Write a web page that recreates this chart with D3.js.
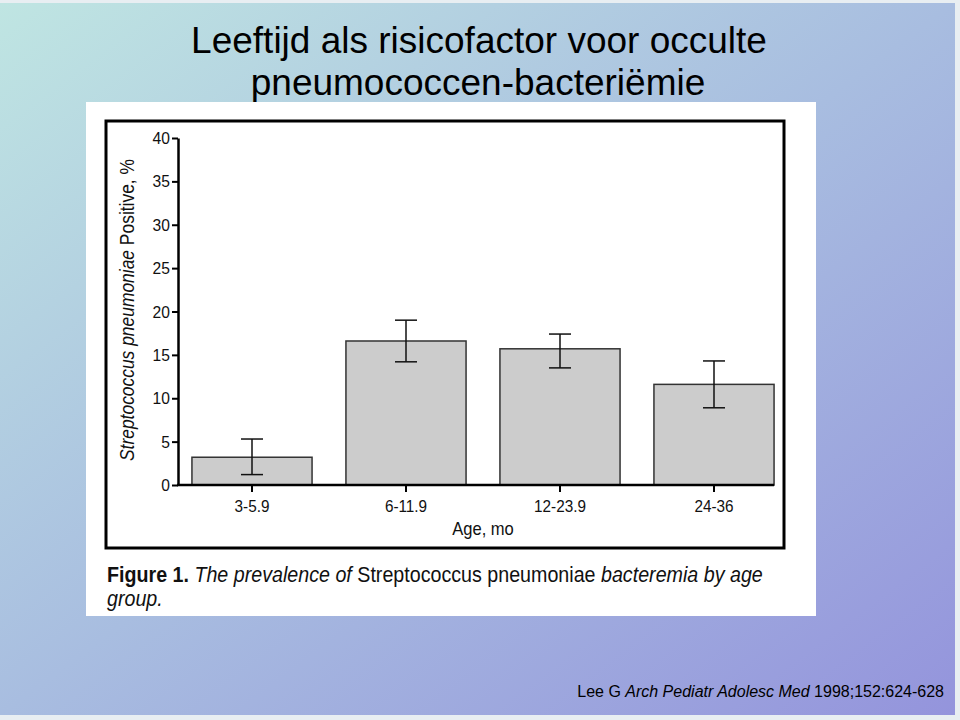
<!DOCTYPE html>
<html><head><meta charset="utf-8">
<script src="https://cdn.jsdelivr.net/npm/d3@7"></script>
<style>html,body{margin:0;padding:0;}svg{display:block;}</style>
</head><body>
<script>
const categories = ["3-5.9", "6-11.9", "12-23.9", "24-36"];
const values = [3.2, 16.6, 15.7, 11.6];
const errLow = [1.2, 14.2, 13.5, 8.9];
const errHigh = [5.3, 19.0, 17.4, 14.3];
const yTicks = [0, 5, 10, 15, 20, 25, 30, 35, 40];

const W = 960, H = 720;
const svg = d3.select("body").append("svg").attr("width", W).attr("height", H);
const defs = svg.append("defs");
const grad = defs.append("linearGradient").attr("id", "bg").attr("x1", "0").attr("y1", "0").attr("x2", "1").attr("y2", "1");
grad.append("stop").attr("offset", "0").attr("stop-color", "#bfe5e2");
grad.append("stop").attr("offset", "0.5").attr("stop-color", "#a8bde0");
grad.append("stop").attr("offset", "1").attr("stop-color", "#9494dc");
svg.append("rect").attr("width", W).attr("height", H).attr("fill", "#e8eef2");
svg.append("rect").attr("x", 0).attr("y", 3).attr("width", 955).attr("height", 712).attr("fill", "url(#bg)");

const sans = "'Liberation Sans', Arial, sans-serif";

// helper: condensed text
function ctext(parent, xPos, yPos, sx, size, anchor) {
  return parent.append("g").attr("transform", `translate(${xPos},${yPos}) scale(${sx},1)`)
    .append("text").attr("x", 0).attr("y", 0).attr("text-anchor", anchor || "start")
    .attr("font-family", sans).attr("font-size", size).attr("fill", "#111");
}

// Title
const title = svg.append("text").attr("text-anchor", "middle")
  .attr("font-family", sans).attr("font-size", 37).attr("fill", "#000");
title.append("tspan").attr("x", 479).attr("y", 53).text("Leeftijd als risicofactor voor occulte");
title.append("tspan").attr("x", 478).attr("y", 95).text("pneumococcen-bacteriëmie");

// White panel
svg.append("rect").attr("x", 86).attr("y", 102).attr("width", 730).attr("height", 514).attr("fill", "#fff");
svg.append("rect").attr("x", 106).attr("y", 121).attr("width", 678).attr("height", 427)
  .attr("fill", "none").attr("stroke", "#000").attr("stroke-width", 3);

// Scales
const x = d3.scaleBand().domain(categories).range([175, 791]).paddingInner(0.22).paddingOuter(0.11);
const y = d3.scaleLinear().domain([0, 40]).range([485, 138]);
const x0 = 178;

const g = svg.append("g");

// Bars
g.selectAll("rect.bar").data(categories).enter().append("rect")
  .attr("x", d => x(d)).attr("y", (d, i) => y(values[i]))
  .attr("width", x.bandwidth()).attr("height", (d, i) => y(0) - y(values[i]))
  .attr("fill", "#cccccc").attr("stroke", "#333").attr("stroke-width", 1.5);

// Error bars
const cap = 11;
categories.forEach((c, i) => {
  const cx = x(c) + x.bandwidth() / 2;
  g.append("line").attr("x1", cx).attr("x2", cx).attr("y1", y(errLow[i])).attr("y2", y(errHigh[i]))
    .attr("stroke", "#111").attr("stroke-width", 1.5);
  [errLow[i], errHigh[i]].forEach(v => {
    g.append("line").attr("x1", cx - cap).attr("x2", cx + cap).attr("y1", y(v)).attr("y2", y(v))
      .attr("stroke", "#111").attr("stroke-width", 1.5);
  });
});

// Y axis
const yAxis = d3.axisLeft(y).tickValues(yTicks).tickSize(6).tickSizeOuter(0).tickFormat("");
const ya = svg.append("g").attr("transform", `translate(${x0},0)`).call(yAxis);
ya.select(".domain").attr("stroke", "#000").attr("stroke-width", 2.5);
ya.selectAll(".tick line").attr("stroke", "#000").attr("stroke-width", 2);
yTicks.forEach(t => {
  ctext(svg, 170, y(t) + 6, 0.92, 17, "end").text(t);
});

// X axis
const xa = svg.append("g").attr("transform", `translate(0,${y(0)})`);
const lastEnd = x(categories[categories.length - 1]) + x.bandwidth();
xa.append("line").attr("x1", x0 - 1).attr("x2", lastEnd).attr("y1", 0).attr("y2", 0)
  .attr("stroke", "#000").attr("stroke-width", 2.5);
categories.forEach(c => {
  const cx = x(c) + x.bandwidth() / 2;
  xa.append("line").attr("x1", cx).attr("x2", cx).attr("y1", 0).attr("y2", 7)
    .attr("stroke", "#000").attr("stroke-width", 2);
  ctext(xa, cx, 27, 0.9, 17, "middle").text(c);
});
ctext(xa, 483, 50, 0.92, 18, "middle").text("Age, mo");

// Y label
const ylg = svg.append("g").attr("transform", `translate(134,310) rotate(-90) scale(0.83,1)`);
const yl = ylg.append("text").attr("text-anchor", "middle").attr("font-family", sans)
  .attr("font-size", 21).attr("fill", "#111");
yl.append("tspan").attr("font-style", "italic").text("Streptococcus pneumoniae");
yl.append("tspan").text(" Positive, %");

// Caption
const cap1 = ctext(svg, 107, 582, 0.894, 22, "start");
cap1.append("tspan").attr("font-weight", "bold").text("Figure 1.");
cap1.append("tspan").attr("font-style", "italic").text(" The prevalence of ");
cap1.append("tspan").text("Streptococcus pneumoniae");
cap1.append("tspan").attr("font-style", "italic").text(" bacteremia by age");
ctext(svg, 107, 606, 0.894, 22, "start").attr("font-style", "italic").text("group.");

// Citation
const cit = svg.append("text").attr("x", 944).attr("y", 697).attr("text-anchor", "end")
  .attr("font-family", sans).attr("font-size", 16).attr("fill", "#000");
cit.append("tspan").text("Lee G ");
cit.append("tspan").attr("font-style", "italic").text("Arch Pediatr Adolesc Med");
cit.append("tspan").text(" 1998;152:624-628");
</script>
</body></html>
